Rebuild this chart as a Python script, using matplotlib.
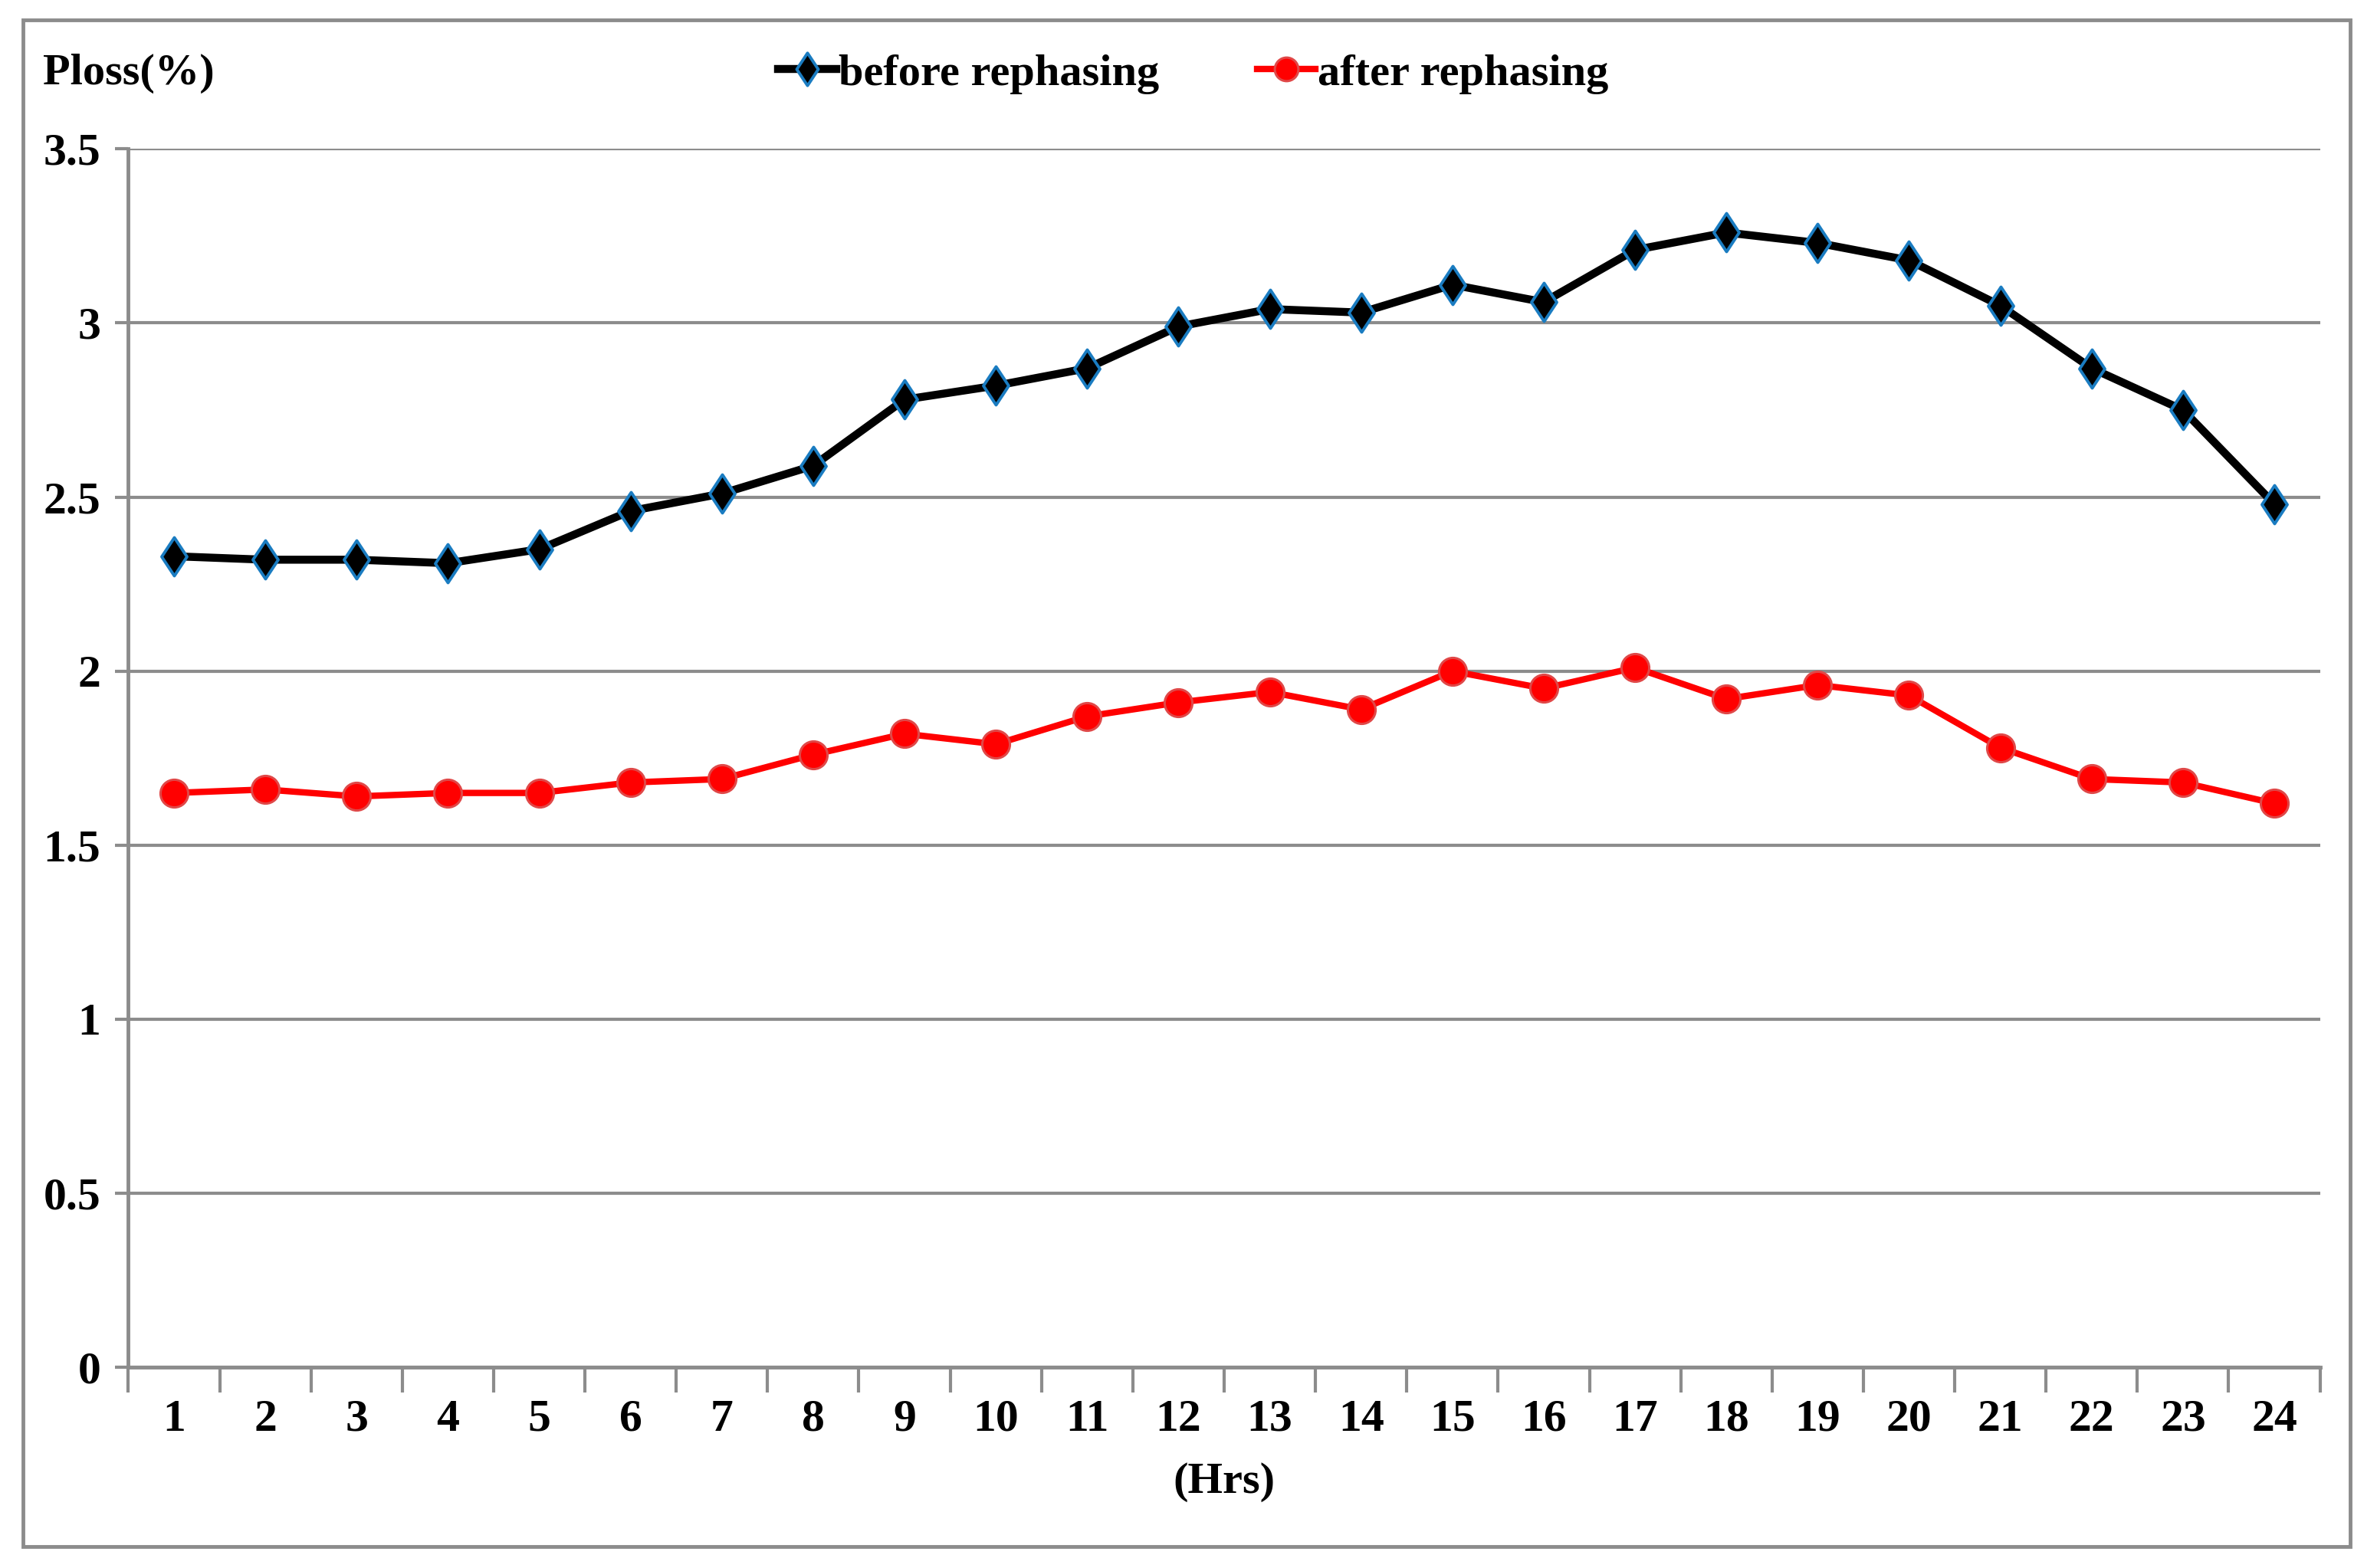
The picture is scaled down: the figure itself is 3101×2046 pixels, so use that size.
import numpy as np
import matplotlib.pyplot as plt
from matplotlib.patches import Rectangle
from matplotlib.path import Path

hours = np.arange(1, 25)
before = [2.33, 2.32, 2.32, 2.31, 2.35, 2.46, 2.51, 2.59, 2.78, 2.82, 2.87, 2.99,
          3.04, 3.03, 3.11, 3.06, 3.21, 3.26, 3.23, 3.18, 3.05, 2.87, 2.75, 2.48]
after = [1.65, 1.66, 1.64, 1.65, 1.65, 1.68, 1.69, 1.76, 1.82, 1.79, 1.87, 1.91,
         1.94, 1.89, 2.00, 1.95, 2.01, 1.92, 1.96, 1.93, 1.78, 1.69, 1.68, 1.62]
y_ticks = [0, 0.5, 1, 1.5, 2, 2.5, 3, 3.5]
y_labels = ['0', '0.5', '1', '1.5', '2', '2.5', '3', '3.5']

plt.rcParams['font.family'] = ['Liberation Serif', 'DejaVu Serif']
plt.rcParams['font.weight'] = 'bold'

grey = '#8c8c8c'
fs = 43

# diamond a bit wider than matplotlib's thin 'd'
diamond = Path([(0, 1), (0.66, 0), (0, -1), (-0.66, 0), (0, 1)],
               [Path.MOVETO, Path.LINETO, Path.LINETO, Path.LINETO, Path.CLOSEPOLY])

fig = plt.figure(figsize=(31.01, 20.46), dpi=100)
ax = fig.add_axes([0.054, 0.128, 0.922, 0.777])

# outer frame
fig.patches.append(Rectangle((0.0097, 0.0135), 0.979, 0.974, transform=fig.transFigure,
                             fill=False, edgecolor=grey, linewidth=3.5))

ax.plot(hours, before, color='black', linewidth=7.5, marker=diamond, markersize=36,
        markerfacecolor='black', markeredgecolor='#1a7cc1', markeredgewidth=2.8,
        label='before rephasing', zorder=3)
ax.plot(hours, after, color='#ff0000', linewidth=6, marker='o', markersize=26,
        markerfacecolor='#ff0000', markeredgecolor='#e04848', markeredgewidth=2.2,
        label='after rephasing', zorder=3)

ax.set_xlim(0.5, 24.5)
ax.set_ylim(0, 3.5)
ax.set_yticks(y_ticks)
ax.set_yticklabels(y_labels)
ax.set_xticks(hours)
ax.set_xticklabels([str(h) for h in hours])
ax.set_xticks(np.arange(0.5, 25, 1), minor=True)
ax.tick_params(axis='x', which='major', length=0, pad=30, labelsize=fs)
ax.tick_params(axis='x', which='minor', length=24, width=3, color=grey)
ax.tick_params(axis='y', length=12, width=3, color=grey, pad=14, labelsize=fs)

ax.yaxis.grid(True, color=grey, linewidth=3)
ax.set_axisbelow(True)
for s in ['top', 'right']:
    ax.spines[s].set_visible(False)
for s in ['left', 'bottom']:
    ax.spines[s].set_color(grey)
    ax.spines[s].set_linewidth(3.5)

fig.text(0.018, 0.953, 'Ploss(%)', fontsize=42, fontweight='bold', va='center')
ax.set_xlabel('(Hrs)', fontsize=42, fontweight='bold', labelpad=20)

ax.legend(loc='center', bbox_to_anchor=(0.502, 0.953), bbox_transform=fig.transFigure,
          ncol=2, frameon=False, fontsize=42, handlelength=1.3, handletextpad=0.05,
          columnspacing=2.2, markerscale=0.85)

plt.savefig('out.png', dpi=100)
plt.close()
